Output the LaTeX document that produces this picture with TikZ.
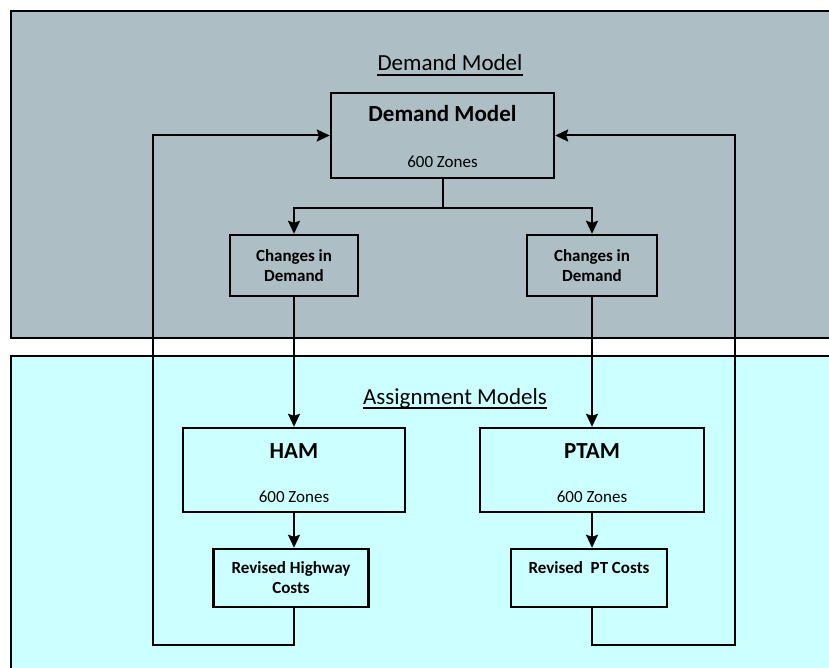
\documentclass[tikz,border=0pt]{standalone}
\usepackage{fontspec}
\setmainfont{Carlito}
\usetikzlibrary{arrows.meta,positioning,calc}

\definecolor{demandbg}{RGB}{173,190,196}
\definecolor{assignbg}{RGB}{204,255,255}

\begin{document}
\begin{tikzpicture}[
			x=1pt, y=-1pt,
			panel/.style={draw=black,line width=1.8pt},
			bigbox/.style={rectangle,draw,line width=2.4pt,minimum width=222pt,minimum height=84pt,inner sep=0pt},
			smallbox/.style={rectangle,draw,line width=2.4pt,align=center,inner sep=0pt,
				font=\fontsize{17}{20}\selectfont\bfseries},
			heading/.style={inner sep=0pt,font=\fontsize{23}{28}\selectfont},
			boxtitle/.style={inner sep=0pt,font=\fontsize{23}{28}\selectfont\bfseries},
			zones/.style={inner sep=0pt,font=\fontsize{17}{20}\selectfont},
			link/.style={draw,line width=2pt},
			flow/.style={link,-{Stealth[length=13pt,width=12pt,inset=2pt]}},
			]
			\useasboundingbox (0,0) rectangle (829,668);
			% the two panels
			\draw [panel,fill=demandbg] (11,11) rectangle (845,338);
			\draw [panel,fill=assignbg] (11,356) rectangle (845,680);
			\node [heading] (dmhead) at (450,63) {Demand Model};
			\draw [line width=1.3pt] ([yshift=-4pt]dmhead.base west) -- ([yshift=-4pt]dmhead.base east);
			\node [heading] (amhead) at (455,398) {Assignment Models};
			\draw [line width=1.3pt] ([yshift=-4pt]amhead.base west) -- ([yshift=-4pt]amhead.base east);
			% demand model
			\node [bigbox,minimum width=223pt,minimum height=85pt] (dm) at (442.5,135.5) {};
			\node [boxtitle] (dmname) at ($(dm.north)+(0,22)$) {Demand Model};
			\node [zones] (dmzones) at ($(dm.south)+(0,-17)$) {600 Zones};
			\node [smallbox,minimum width=128pt,minimum height=61pt] (chl) at (294,265.5) {Changes in\\Demand};
			\node [smallbox,minimum width=130pt,minimum height=61pt] (chr) at (592,265.5) {Changes in\\Demand};
			% assignment models
			\node [bigbox] (ham) at (294,470) {};
			\node [boxtitle] (hamname) at ($(ham.north)+(0,24)$) {HAM};
			\node [zones] (hamzones) at ($(ham.south)+(0,-16)$) {600 Zones};
			\node [bigbox,minimum width=224pt] (ptam) at (592,470) {};
			\node [boxtitle] (ptamname) at ($(ptam.north)+(0,24)$) {PTAM};
			\node [zones] (ptamzones) at ($(ptam.south)+(0,-16)$) {600 Zones};
			\node [smallbox,minimum width=155pt,minimum height=58pt] (rhw) at (291,578) {Revised Highway\\Costs};
			\node [smallbox,minimum width=156pt,minimum height=58pt] (rpt) at (589,578) {Revised\ \ PT Costs\\\mbox{}};
			% connectors
			\coordinate (fork) at ($(dm.south)+(0,29)$);
			\coordinate (loopl) at (153,645);
			\coordinate (loopr) at (735,645);
			\path [link] (dm.south) -- (fork);
			\path [flow] (fork) -| (chl.north);
			\path [flow] (fork) -| (chr.north);
			\path [flow] (chl.south) -- (chl.south |- ham.north);
			\path [flow] (chr.south) -- (chr.south |- ptam.north);
			\path [flow] (ham.south) -- (ham.south |- rhw.north);
			\path [flow] (ptam.south) -- (ptam.south |- rpt.north);
			\path [flow] (ham.south |- rhw.south) |- (loopl) |- (dm.west);
			\path [flow] (ptam.south |- rpt.south) |- (loopr) |- (dm.east);
		\end{tikzpicture}
\end{document}
